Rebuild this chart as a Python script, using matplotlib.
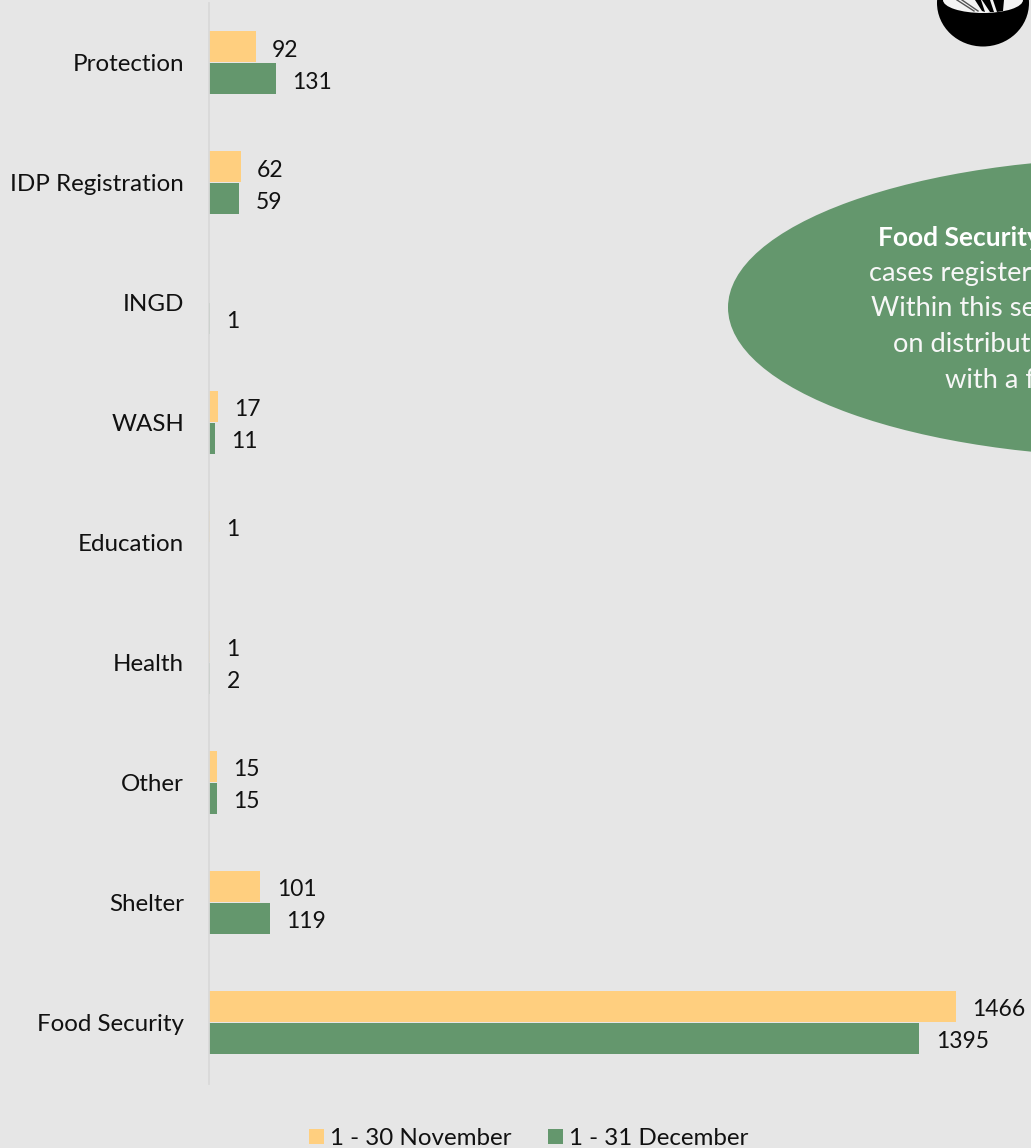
import matplotlib
matplotlib.use("Agg")
import matplotlib.pyplot as plt
import numpy as np
from matplotlib.patches import Ellipse, Polygon, Rectangle

W, H = 1031, 1148
BG = "#E6E6E6"
NOV = "#FFCF7F"
DEC = "#64976D"
FONT = ["Lato", "DejaVu Sans"]

categories = ["Protection", "IDP Registration", "INGD", "WASH", "Education",
              "Health", "Other", "Shelter", "Food Security"]
november = [92, 62, None, 17, 1, 1, 15, 101, 1466]
december = [131, 59, 1, 11, None, 2, 15, 119, 1395]
series_names = ["1 - 30 November", "1 - 31 December"]
callout_lines = ["cases register", "Within this se", "on distribut", "with a f"]
callout_title = "Food Security"

plt.rcParams["font.family"] = FONT
fig = plt.figure(figsize=(W / 100, H / 100), dpi=100, facecolor=BG)

# Page-level overlay measured in pixels, y pointing down.
page = fig.add_axes([0, 0, 1, 1], zorder=3)
page.set_xlim(0, W)
page.set_ylim(H, 0)
page.axis("off")

ax = fig.add_axes([209 / W, 1 - 1084 / H, (W - 209) / W, (1084 - 3) / H], zorder=2)
ax.patch.set_alpha(0)
px_per_unit = 746.5 / 1466
ax.set_xlim(0, (W - 209) / px_per_unit)
# Categories are 120 px apart; the first one is centred 60 px below the top.
ax.set_ylim(8.51, -0.5)

y = np.arange(len(categories))
offset = 16 / 120
bar_h = 31 / 120


def draw_series(values, pos, color):
    for yi, v in zip(pos, values):
        if v is None:
            continue
        ax.barh(yi, v, height=bar_h, color=color, linewidth=0)
        ax.annotate(str(v), (v, yi), xytext=(11.8, -2.2), textcoords="offset points",
                    va="center", ha="left", fontsize=16.5, color="#111111")


draw_series(november, y - offset, NOV)
draw_series(december, y + offset, DEC)

ax.set_yticks(y)
ax.set_yticklabels(categories, fontsize=17.4, color="#111111")
ax.tick_params(axis="y", length=0, pad=18)
ax.set_xticks([])
for side in ["top", "right", "bottom"]:
    ax.spines[side].set_visible(False)
ax.spines["left"].set_color("#D9D9D9")
ax.spines["left"].set_linewidth(1.3)

# Callout ellipse running off the right edge.
page.add_patch(Ellipse((1146, 307.5), 836, 300, color=DEC, linewidth=0))
page.text(878, 238, callout_title, color="white", fontsize=19, fontweight="bold",
          va="center", ha="left", clip_on=True)
for line, x0, yy in zip(callout_lines, [869, 871, 893, 945], [274, 309, 345, 380]):
    page.text(x0, yy, line, color="#F7F7F7", fontsize=19.6, va="center", ha="left", clip_on=True)

# Bowl icon cut by the top edge.
page.add_patch(Ellipse((983, 3), 92, 87, color="black", linewidth=0))
page.add_patch(Ellipse((983, 0), 80, 26, color="#F4F4F4", linewidth=0))
for pts in [[(982, 0), (990, 12), (994, 12), (990, 0)],
            [(993, 0), (997, 12), (1003, 11), (1004, 0)],
            [(975, 0), (982, 11), (985, 12), (981, 0)]]:
    page.add_patch(Polygon(pts, color="black", linewidth=0))
page.plot([957, 974], [0, 11], color="#555555", lw=1)
page.plot([962, 978], [0, 11], color="#555555", lw=1)
page.set_xlim(0, W)
page.set_ylim(H, 0)

# Legend keys and labels.
for x0, color, name in zip([309, 548], [NOV, DEC], series_names):
    page.add_patch(Rectangle((x0, 1129), 15, 15, color=color, linewidth=0))
    page.text(x0 + 21, 1138.5, name, fontsize=17.4, va="center", ha="left", color="#111111")

fig.savefig("out.png", dpi=100, facecolor=BG)
